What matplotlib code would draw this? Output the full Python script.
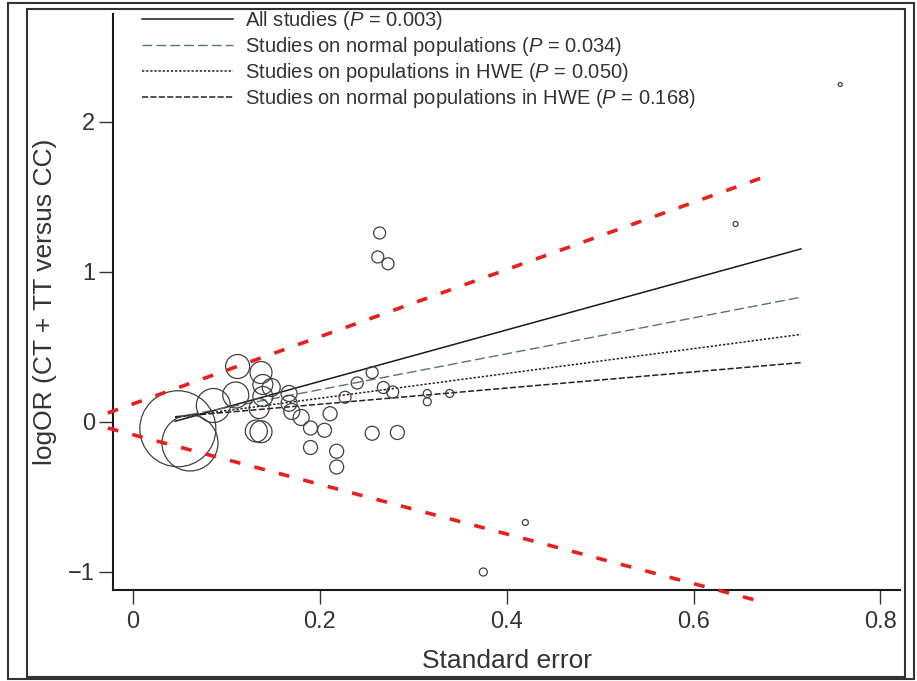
import matplotlib
matplotlib.use("Agg")
import matplotlib.pyplot as plt
from matplotlib.patches import Rectangle
import numpy as np

plt.rcParams['font.family'] = ['Liberation Sans', 'DejaVu Sans']
plt.rcParams['mathtext.fontset'] = 'custom'
plt.rcParams['mathtext.it'] = 'Liberation Sans:italic'
plt.rcParams['mathtext.rm'] = 'Liberation Sans'

# studies: standard error, log odds ratio, bubble radius (px)
se = [0.048, 0.061, 0.086, 0.110, 0.112, 0.137, 0.139, 0.139, 0.135, 0.132,
      0.137, 0.148, 0.167, 0.167, 0.170, 0.180, 0.190, 0.190, 0.205, 0.211,
      0.218, 0.218, 0.227, 0.240, 0.256, 0.256, 0.268, 0.278, 0.283, 0.315,
      0.315, 0.339, 0.264, 0.262, 0.273, 0.375, 0.420, 0.645, 0.757]
logor = [-0.045, -0.14, 0.11, 0.18, 0.37, 0.33, 0.25, 0.17, 0.09, -0.06,
         -0.065, 0.23, 0.19, 0.125, 0.07, 0.03, -0.04, -0.17, -0.055, 0.055,
         -0.195, -0.30, 0.165, 0.26, 0.33, -0.075, 0.23, 0.20, -0.07, 0.19,
         0.135, 0.19, 1.26, 1.10, 1.055, -1.0, -0.67, 1.32, 2.25]
radius = [38, 28, 17, 13, 12, 11, 10, 10, 10, 11,
          11, 9, 8, 8, 8, 8, 7, 7, 7, 7,
          7, 7, 6, 6, 6, 7, 6, 6, 7, 4,
          4, 4, 6, 6, 6, 4, 3, 2.5, 2]

# regression lines (start/end on the SE axis)
line_x = [0.045, 0.715]
line_labels = ["All studies ($P$ = 0.003)",
               "Studies on normal populations ($P$ = 0.034)",
               "Studies on populations in HWE ($P$ = 0.050)",
               "Studies on normal populations in HWE ($P$ = 0.168)"]
line_y = [[0.005, 1.154], [0.03, 0.832], [0.03, 0.584], [0.035, 0.396]]

# pseudo 95% limits (red dashed)
limit_x = [-0.027, 0.674]
upper_y = [0.06, 1.63]
lower_y = [-0.04, -1.20]

fig = plt.figure(figsize=(9.17, 6.81), dpi=100)
ax = fig.add_axes([113 / 917, 1 - 590 / 681, 787 / 917, 576 / 681])

styles = [dict(color='#1a1a1a', linestyle='-', lw=1.1),
          dict(color='#5a6f80', linestyle=(0, (7, 3)), lw=1.0),
          dict(color='#222222', linestyle=(0, (1.5, 1.2)), lw=1.1),
          dict(color='#222222', linestyle=(0, (4, 1.5)), lw=1.1)]
for ys, lab, st in zip(line_y, line_labels, styles):
    ax.plot(line_x, ys, label=lab, **st)

ax.plot(limit_x, upper_y, color='#e8201c', lw=2.6, linestyle=(0, (3, 4)),
        clip_on=False, zorder=4)
ax.plot(limit_x, lower_y, color='#e8201c', lw=2.6, linestyle=(0, (3, 4)),
        clip_on=False, zorder=4)

sizes = [(2 * r * 0.72) ** 2 for r in radius]
ax.scatter(se, logor, s=sizes, facecolors='none', edgecolors='#404040',
           linewidths=0.9, zorder=3)

ax.set_xlim(-0.0214, 0.821)
ax.set_ylim(-1.12, 2.72)
ax.set_xticks([0, 0.2, 0.4, 0.6, 0.8])
ax.set_xticklabels(['0', '0.2', '0.4', '0.6', '0.8'])
ax.set_yticks([-1, 0, 1, 2])
ax.set_yticklabels(['\u22121', '0', '1', '2'])
ax.spines['top'].set_visible(False)
ax.spines['right'].set_visible(False)
for s in ['left', 'bottom']:
    ax.spines[s].set_linewidth(1.5)
    ax.spines[s].set_color('#1a1a1a')
ax.tick_params(axis='both', direction='out', length=10, width=1.0,
               colors='#333333', labelsize=17)
ax.tick_params(axis='x', pad=5)
ax.tick_params(axis='y', pad=3)

ax.set_xlabel('Standard error', fontsize=19, color='#333333', labelpad=12)
ax.set_ylabel('logOR (CT + TT versus CC)', fontsize=19, color='#333333',
              labelpad=8)

leg = ax.legend(loc='upper left', bbox_to_anchor=(0.027, 1.022), frameon=False,
                fontsize=14.5, handlelength=4.5, handletextpad=0.6,
                labelspacing=0.15, borderaxespad=0)
for t in leg.get_texts():
    t.set_color('#333333')

# outer frame of the figure panel
fig.patches.append(Rectangle((27 / 917, 1 - 677 / 681), 878 / 917, 668 / 681,
                             transform=fig.transFigure, fill=False,
                             edgecolor='#333333', lw=1.5))
fig.patches.append(Rectangle((8 / 917, 1 - 679 / 681), 906 / 917, 676 / 681,
                             transform=fig.transFigure, fill=False,
                             edgecolor='#333333', lw=1.5))

fig.savefig('out.png', dpi=100)
